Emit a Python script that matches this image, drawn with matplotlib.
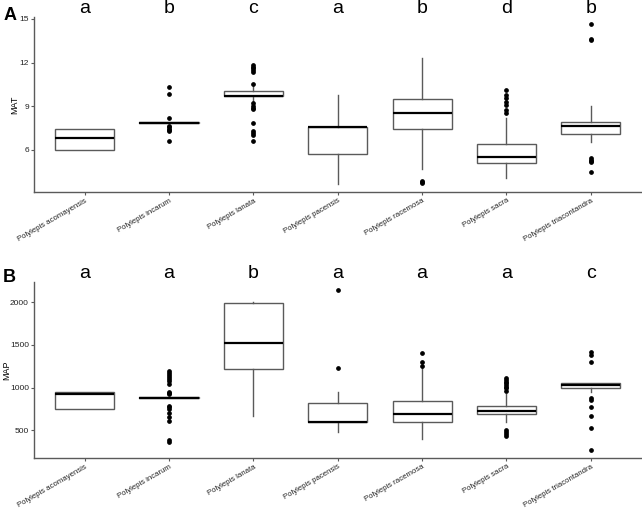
import matplotlib
matplotlib.use("Agg")
import matplotlib.pyplot as plt
import matplotlib.transforms as mtransforms

plt.rcParams['font.family'] = ['Liberation Sans', 'DejaVu Sans']

# especies
species = ["Polylepis acomayensis", "Polylepis incarum", "Polylepis lanata",
           "Polylepis pacensis", "Polylepis racemosa", "Polylepis sacra",
           "Polylepis triacontandra"]

# MAT (panel A)
mat_q1 = [6.0, 7.84, 9.70, 5.70, 7.42, 5.08, 7.10]
mat_med = [6.83, 7.87, 9.72, 7.58, 8.50, 5.52, 7.61]
mat_q3 = [7.40, 7.90, 10.02, 7.58, 9.49, 6.41, 7.89]
mat_lo = [6.0, 7.84, 9.37, 3.62, 4.69, 4.03, 6.51]
mat_hi = [7.40, 7.90, 10.48, 9.76, 12.29, 8.16, 8.99]
mat_out = [
    [],
    [10.29, 9.81, 8.2, 7.63, 7.55, 7.45, 7.38, 7.31, 6.6],
    [11.83, 11.72, 11.6, 11.48, 11.37, 10.52, 9.19, 9.0, 8.9, 8.78, 7.82, 7.29, 7.15, 7.01, 6.6],
    [],
    [3.85, 3.78, 3.71],
    [10.1, 9.76, 9.54, 9.3, 9.07, 8.73, 8.5],
    [14.63, 13.6, 13.53, 5.41, 5.3, 5.2, 5.13, 4.47],
]
mat_letters = ["a", "b", "c", "a", "b", "d", "b"]

# MAP (panel B)
map_q1 = [755, 878, 1223, 594, 594, 691, 996]
map_med = [928, 883, 1527, 596, 691, 730, 1027]
map_q3 = [953, 888, 1996, 816, 848, 789, 1059]
map_lo = [755, 878, 672, 484, 398, 594, 953]
map_hi = [953, 888, 2008, 953, 1235, 926, 1059]
map_out = [
    [],
    [1199, 1175, 1150, 1121, 1100, 1082, 1039, 950, 934, 920, 789, 770, 746, 699, 660, 613, 387, 363],
    [],
    [2144, 1234],
    [1402, 1297, 1250],
    [1109, 1090, 1070, 1050, 1030, 1010, 990, 965, 504, 480, 457, 430],
    [1414, 1383, 1297, 875, 859, 770, 668, 531, 270],
]
map_letters = ["a", "a", "b", "a", "a", "a", "c"]

gris = "#5a5a5a"


def panel(ax, q1, med, q3, lo, hi, out, letters, ylab, ylim, yticks, labx):
    stats = []
    for i in range(len(species)):
        stats.append(dict(q1=q1[i], med=med[i], q3=q3[i], whislo=lo[i],
                          whishi=hi[i], fliers=out[i]))
    ax.bxp(stats, positions=range(len(species)), widths=0.7, showcaps=False,
           patch_artist=True,
           boxprops=dict(facecolor="white", edgecolor=gris, linewidth=1.0),
           whiskerprops=dict(color=gris, linewidth=1.0),
           medianprops=dict(color="black", linewidth=1.6),
           flierprops=dict(marker="o", markersize=2.4, markerfacecolor="black",
                           markeredgecolor="black"))
    ax.set_xlim(-0.6, len(species) - 0.4)
    ax.set_ylim(*ylim)
    ax.set_yticks(yticks)
    ax.set_xticks(range(len(species)))
    ax.set_xticklabels(species, rotation=30, ha="right", rotation_mode="anchor",
                       fontsize=5.6, color="#222222")
    ax.tick_params(axis="y", labelsize=6, labelcolor="#222222", color=gris,
                   length=2.5, width=0.8, pad=1.2)
    ax.tick_params(axis="x", color=gris, length=2.5, width=0.8, pad=1.0)
    ax.set_ylabel(ylab, fontsize=6.5, va="center")
    ax.yaxis.set_label_coords(labx, 0.5)
    for s in ["top", "right"]:
        ax.spines[s].set_visible(False)
    for s in ["left", "bottom"]:
        ax.spines[s].set_color(gris)
        ax.spines[s].set_linewidth(1.0)
    trans = mtransforms.blended_transform_factory(ax.transData, ax.transAxes)
    for i, l in enumerate(letters):
        ax.text(i, 1.05, l, transform=trans, ha="center", va="center",
                fontsize=14)


fig = plt.figure(figsize=(6.42, 5.08), dpi=100)
axA = fig.add_axes([0.053, 0.6214, 0.946, 0.3451])
axB = fig.add_axes([0.053, 0.0978, 0.946, 0.3465])

panel(axA, mat_q1, mat_med, mat_q3, mat_lo, mat_hi, mat_out, mat_letters,
      "MAT", (3.07, 15.13), [6, 9, 12, 15], -0.031)
panel(axB, map_q1, map_med, map_q3, map_lo, map_hi, map_out, map_letters,
      "MAP", (172, 2234), [500, 1000, 1500, 2000], -0.045)

fig.text(0.015, 0.970, "A", ha="center", va="center", fontsize=13, fontweight="bold")
fig.text(0.015, 0.453, "B", ha="center", va="center", fontsize=13, fontweight="bold")

plt.savefig("out.png", dpi=100)
plt.close()
